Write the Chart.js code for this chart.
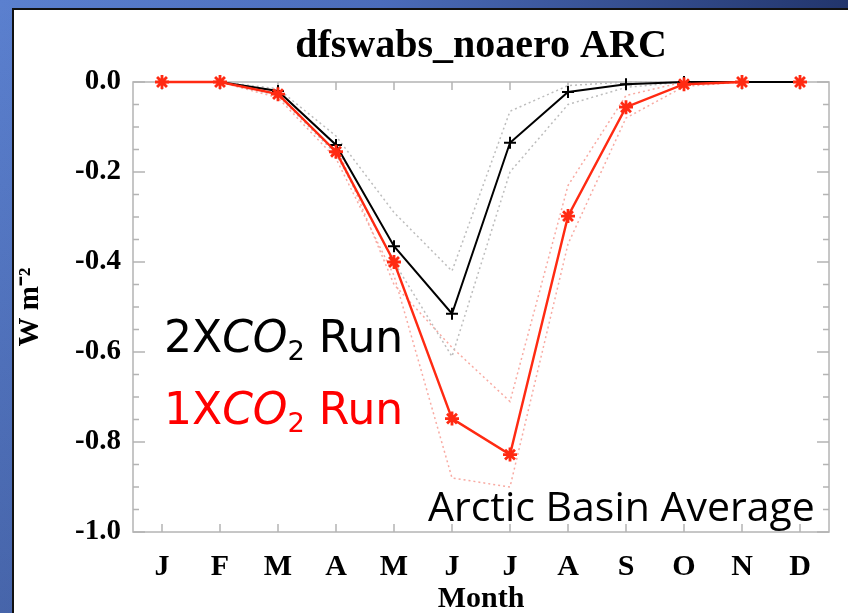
<!DOCTYPE html>
<html>
<head>
<meta charset="utf-8">
<script src="https://cdn.jsdelivr.net/npm/chart.js@4.4.1/dist/chart.umd.min.js"></script>
<style>
  html, body { margin: 0; padding: 0; }
  body {
    width: 848px; height: 613px; overflow: hidden; position: relative;
    background: linear-gradient(to bottom, rgba(0,0,0,0), rgba(10,20,60,0.25)),
                linear-gradient(to right, #5b80cf 0%, #4b6cba 45%, #22356c 100%);
  }
  #panel {
    position: absolute; left: 12px; top: 8px; right: 0; bottom: 0;
    background: #fff; border-left: 2px solid #111; border-top: 2px solid #111;
  }
  #chart { position: absolute; left: 0; top: 0; }
  .note { position: absolute; white-space: nowrap; line-height: 1; }
  .run { font-family: "DejaVu Sans", sans-serif; font-size: 44px; left: 164px; }
  .run sub { font-size: 0.62em; vertical-align: -0.28em; }
  #run2 { top: 315px; color: #000; }
  #run1 { top: 387px; color: #ff0000; }
  #basin { left: 428px; top: 485px; font-family: "Open Sans", sans-serif; font-size: 41px; color: #000; }
</style>
</head>
<body>
<div id="panel"></div>
<canvas id="chart" width="848" height="613"></canvas>
<div class="note run" id="run2">2X<i>CO</i><sub>2</sub> Run</div>
<div class="note run" id="run1">1X<i>CO</i><sub>2</sub> Run</div>
<div class="note" id="basin">Arctic Basin Average</div>
<script>
const months = ['J', 'F', 'M', 'A', 'M', 'J', 'J', 'A', 'S', 'O', 'N', 'D'];

// monthly means, W m-2
const run2x = [0, 0, -0.02, -0.14, -0.365, -0.515, -0.135, -0.022, -0.005, 0, 0, 0];
const run1x = [0, 0, -0.027, -0.155, -0.40, -0.748, -0.828, -0.298, -0.056, -0.005, 0, 0];

// dotted spread lines
const run2xHi = [0, 0, -0.015, -0.12, -0.29, -0.42, -0.065, -0.008, 0, 0, 0, 0];
const run2xLo = [0, 0, -0.03, -0.16, -0.40, -0.61, -0.20, -0.05, -0.012, 0, 0, 0];
const run1xHi = [0, 0, -0.02, -0.14, -0.45, -0.59, -0.71, -0.23, -0.03, 0, 0, 0];
const run1xLo = [0, 0, -0.035, -0.17, -0.43, -0.88, -0.90, -0.36, -0.08, -0.01, 0, 0];

const yTicks = [0, -0.2, -0.4, -0.6, -0.8, -1.0];

const black = '#000000';
const red = '#ff2a12';
const grey = '#bdbdbd';
const pink = '#f8aaa2';
const boxColor = '#b4b4b4';

const serif = '"Liberation Serif", "Times New Roman", serif';

// IDL style box with inward ticks
const boxTicks = {
  id: 'boxTicks',
  beforeDatasetsDraw(chart) {
    const {ctx, chartArea: a, scales: {x, y}} = chart;
    ctx.save();
    ctx.strokeStyle = boxColor;
    ctx.lineWidth = 1.5;
    ctx.strokeRect(a.left, a.top, a.width, a.height);
    ctx.beginPath();
    for (let i = 0; i <= 20; i++) {
      const py = y.getPixelForValue(-i * 0.05);
      const len = i % 4 === 0 ? 12 : 6;
      ctx.moveTo(a.left, py); ctx.lineTo(a.left + len, py);
      ctx.moveTo(a.right, py); ctx.lineTo(a.right - len, py);
    }
    months.forEach((m, i) => {
      const px = x.getPixelForValue(i);
      ctx.moveTo(px, a.bottom); ctx.lineTo(px, a.bottom - 8);
      ctx.moveTo(px, a.top); ctx.lineTo(px, a.top + 8);
    });
    ctx.stroke();
    ctx.restore();
  }
};

function dotted(data, color) {
  return {
    data, borderColor: color, borderWidth: 1.5, borderDash: [2, 3],
    pointRadius: 0, fill: false, order: 3, clip: false
  };
}

new Chart(document.getElementById('chart'), {
  type: 'line',
  data: {
    labels: months,
    datasets: [
      {
        label: '1XCO2 Run', data: run1x, borderColor: red, backgroundColor: red,
        borderWidth: 2.4, pointStyle: 'star', pointRadius: 7, pointBorderWidth: 2.8,
        pointBorderColor: red, order: 0, clip: false,
        segment: { borderColor: c => c.p1DataIndex === 11 ? 'rgba(0,0,0,0)' : red }
      },
      {
        label: '2XCO2 Run', data: run2x, borderColor: black, backgroundColor: black,
        borderWidth: 2, pointStyle: 'cross', pointRadius: 6, pointBorderWidth: 2,
        pointBorderColor: black, order: 1, clip: false
      },
      dotted(run2xHi, grey),
      dotted(run2xLo, grey),
      dotted(run1xHi, pink),
      dotted(run1xLo, pink)
    ]
  },
  options: {
    responsive: false,
    devicePixelRatio: 1,
    animation: false,
    layout: { padding: { left: 0, right: 19, top: 0, bottom: 0 } },
    plugins: {
      legend: { display: false },
      tooltip: { enabled: false },
      title: {
        display: true,
        text: 'dfswabs_noaero ARC',
        fullSize: false,
        color: '#000',
        font: { family: serif, size: 40, weight: 'bold', lineHeight: 1.2 },
        padding: { top: 23, bottom: 11 }
      }
    },
    scales: {
      x: {
        type: 'category',
        offset: true,
        grid: { display: false, drawTicks: false },
        border: { display: false },
        ticks: {
          color: '#000', padding: 17, maxRotation: 0, autoSkip: false,
          font: { family: serif, size: 30, weight: 'bold' }
        },
        title: {
          display: true, text: 'Month', color: '#000',
          font: { family: serif, size: 30, weight: 'bold', lineHeight: 0.9 },
          padding: { top: 0, bottom: 0 }
        },
        afterFit: s => { s.height = 81; }
      },
      y: {
        min: -1, max: 0,
        afterBuildTicks: s => { s.ticks = yTicks.map(v => ({ value: v })); },
        grid: { display: false, drawTicks: false },
        border: { display: false },
        ticks: {
          color: '#000', padding: 12,
          font: { family: serif, size: 29, weight: 'bold' },
          callback: v => Number(v).toFixed(1)
        },
        title: {
          display: true, text: 'W m\u207B\u00B2', color: '#000',
          font: { family: serif, size: 29, weight: 'bold', lineHeight: 1.2 },
          padding: { top: 13, bottom: 0 }
        },
        afterFit: s => { s.width = 133; }
      }
    }
  },
  plugins: [boxTicks]
});
</script>
</body>
</html>
